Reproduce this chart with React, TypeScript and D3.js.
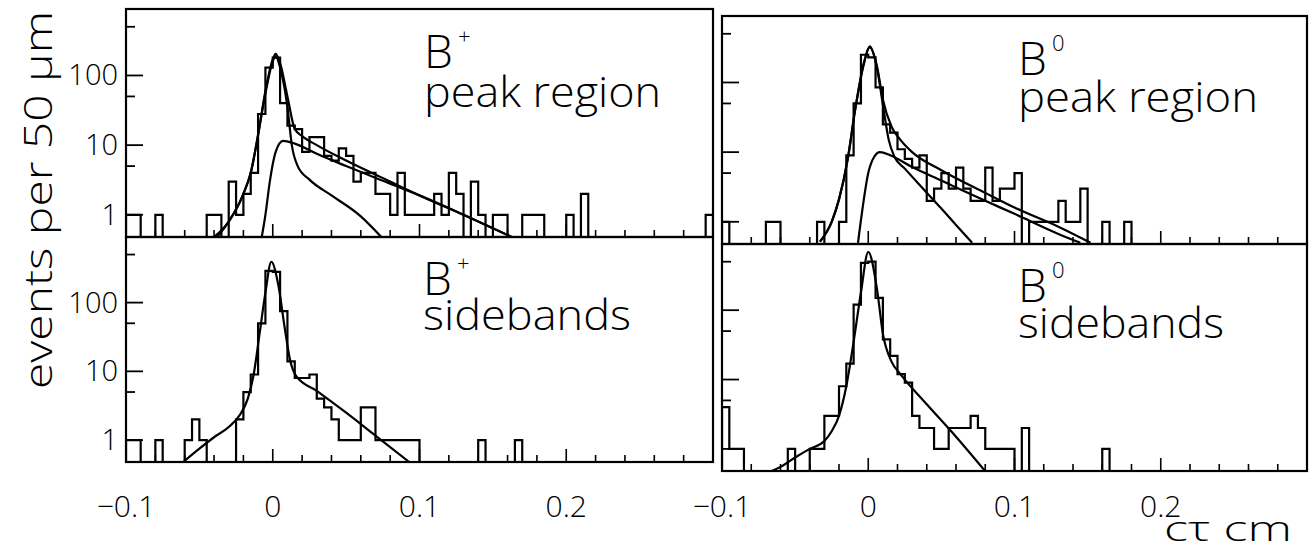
import React, { useRef, useEffect } from 'react';
import * as d3 from 'd3';

// bins of 50 um (0.005 cm) from -0.1 to 0.3 cm, 80 bins per panel
const binStart = -0.1;
const binWidth = 0.005;

const bPlusPeakHist = [
  1, 1, 0, 0, 1, 0, 0, 0, 0, 0, 0, 1, 1, 0, 3, 1, 2, 4, 28, 130,
  180, 40, 19, 17, 8, 13, 13, 7, 6, 9, 7, 3, 4, 4, 2, 2, 1, 4, 1, 1,
  1, 1, 2, 1, 4, 2, 0, 3, 1, 0, 1, 1, 0, 0, 1, 1, 1, 0, 0, 0,
  1, 0, 2, 0, 0, 0, 0, 0, 0, 0, 0, 0, 0, 0, 0, 0, 0, 0, 0, 1,
];
const bZeroPeakHist = [
  1, 0, 0, 0, 0, 0, 1, 1, 0, 0, 0, 0, 0, 1, 0, 0, 1, 9, 50, 250,
  230, 85, 25, 19, 11, 8, 6, 9, 2, 3, 5, 3, 6, 3, 2, 2, 6, 2, 3, 3,
  5, 0, 1, 1, 1, 1, 2, 1, 1, 3, 0, 0, 1, 0, 0, 1, 0, 0, 0, 0,
  0, 0, 0, 0, 0, 0, 0, 0, 0, 0, 0, 0, 0, 0, 0, 0, 0, 0, 0, 0,
];
const bPlusSideHist = [
  1, 1, 0, 0, 1, 0, 0, 0, 1, 2, 1, 0, 0, 0, 0, 2, 5, 9, 50, 290,
  280, 75, 14, 8, 8, 9, 4, 3, 2, 1, 1, 1, 3, 3, 1, 1, 1, 1, 1, 1,
  0, 0, 0, 0, 0, 0, 0, 0, 1, 0, 0, 0, 0, 1, 0, 0, 0, 0, 0, 0,
  0, 0, 0, 0, 0, 0, 0, 0, 0, 0, 0, 0, 0, 0, 0, 0, 0, 0, 0, 0,
];
const bZeroSideHist = [
  4, 1, 1, 0, 0, 0, 0, 0, 0, 1, 0, 0, 1, 1, 3, 3, 8, 17, 120, 480,
  500, 150, 38, 22, 12, 9, 3, 2, 2, 1, 1, 2, 2, 2, 3, 2, 1, 1, 1, 1,
  0, 2, 0, 0, 0, 0, 0, 0, 0, 0, 0, 0, 1, 0, 0, 0, 0, 0, 0, 0,
  0, 0, 0, 0, 0, 0, 0, 0, 0, 0, 0, 0, 0, 0, 0, 0, 0, 0, 0, 0,
];

// fit curves, [c tau (cm), events]
const bPlusPeakTotal = [
  [-0.04, 0.48], [-0.03, 0.8], [-0.02, 2], [-0.015, 4], [-0.01, 14], [-0.005, 60],
  [0, 170], [0.002, 205], [0.005, 150], [0.01, 50], [0.015, 17], [0.02, 13.5],
  [0.03, 10], [0.05, 6], [0.08, 3], [0.1, 1.9], [0.13, 1], [0.163, 0.48],
];
const bPlusPeakSignal = [
  [-0.0075, 0.48], [-0.005, 1], [-0.002, 3], [0.002, 8], [0.007, 11.5], [0.015, 10.5],
  [0.03, 7.5], [0.05, 5], [0.08, 2.8], [0.1, 1.9], [0.13, 1], [0.163, 0.48],
];
const bPlusPeakBkg = [
  [-0.038, 0.48], [-0.03, 0.8], [-0.02, 2], [-0.015, 4], [-0.01, 14], [-0.005, 55],
  [0, 160], [0.002, 190], [0.005, 130], [0.01, 35], [0.013, 10], [0.017, 5],
  [0.025, 3.2], [0.04, 1.9], [0.06, 0.95], [0.074, 0.48],
];
const bZeroPeakTotal = [
  [-0.033, 0.52], [-0.025, 1], [-0.02, 2.1], [-0.014, 8], [-0.009, 40], [-0.003, 190],
  [0.001, 330], [0.006, 170], [0.01, 57], [0.016, 23], [0.022, 15], [0.03, 10],
  [0.05, 5.5], [0.08, 2.6], [0.1, 1.6], [0.13, 0.85], [0.152, 0.5],
];
const bZeroPeakSignal = [
  [-0.007, 0.5], [-0.004, 1.5], [0, 5], [0.004, 8.5], [0.008, 10], [0.015, 9],
  [0.03, 6.1], [0.05, 3.9], [0.08, 2], [0.1, 1.3], [0.13, 0.67], [0.145, 0.5],
];
const bZeroPeakBkg = [
  [-0.033, 0.52], [-0.025, 1], [-0.02, 2.1], [-0.014, 8], [-0.009, 40], [-0.003, 185],
  [0.001, 320], [0.006, 160], [0.01, 48], [0.014, 15], [0.018, 8.5], [0.025, 5.8],
  [0.035, 3.4], [0.05, 1.55], [0.06, 0.9], [0.071, 0.5],
];
const bPlusSideFit = [
  [-0.061, 0.48], [-0.05, 0.75], [-0.04, 1.1], [-0.03, 1.55], [-0.022, 2.4], [-0.017, 4],
  [-0.013, 9], [-0.009, 35], [-0.005, 140], [-0.001, 390], [0.004, 170], [0.008, 45],
  [0.012, 14], [0.016, 8.5], [0.03, 5.2], [0.05, 2.5], [0.07, 1.16], [0.093, 0.48],
];
const bZeroSideFit = [
  [-0.069, 0.45], [-0.06, 0.55], [-0.05, 0.75], [-0.04, 1], [-0.03, 1.3], [-0.025, 1.8],
  [-0.02, 3], [-0.015, 8], [-0.01, 35], [-0.005, 180], [0, 690], [0.006, 200],
  [0.01, 46], [0.016, 18], [0.022, 12], [0.04, 4.4], [0.06, 1.5], [0.081, 0.45],
];

const yMajorTicks = [1, 10, 100];
const yMinorTicks = [5, 50, 500];
const yTickLabels = ['1', '10', '100'];
const xTickValues = [-0.1, 0, 0.1, 0.2];
const xTickLabels = ['\u22120.1', '0', '0.1', '0.2'];

const panels = [
  { id: 'tl', hist: bPlusPeakHist, curves: [bPlusPeakTotal, bPlusPeakSignal, bPlusPeakBkg],
    x0: 126, x1: 713, y0: 9, y1: 237, yLabels: true, xLabels: false,
    sym: 'B', sup: '+', name: 'peak region', tx: 424, bY: 68, nY: 107, nLen: 237 },
  { id: 'tr', hist: bZeroPeakHist, curves: [bZeroPeakTotal, bZeroPeakSignal, bZeroPeakBkg],
    x0: 722, x1: 1307, y0: 16, y1: 244, yLabels: false, xLabels: false,
    sym: 'B', sup: '0', name: 'peak region', tx: 1018, bY: 75, nY: 112, nLen: 240 },
  { id: 'bl', hist: bPlusSideHist, curves: [bPlusSideFit],
    x0: 126, x1: 713, y0: 237, y1: 462, yLabels: true, xLabels: true,
    sym: 'B', sup: '+', name: 'sidebands', tx: 423, bY: 295, nY: 330, nLen: 208 },
  { id: 'br', hist: bZeroSideHist, curves: [bZeroSideFit],
    x0: 722, x1: 1307, y0: 244, y1: 471, yLabels: false, xLabels: true,
    sym: 'B', sup: '0', name: 'sidebands', tx: 1018, bY: 302, nY: 338, nLen: 206 },
];

const FONT = "'Open Sans', 'DejaVu Sans', sans-serif";

const App = () => {
  const svgRef = useRef(null);

  useEffect(() => {
    const svg = d3.select(svgRef.current);
    svg.selectAll('*').remove();

    svg.append('rect').attr('width', 1312).attr('height', 555).attr('fill', '#fff');

    panels.forEach(p => {
      const x = d3.scaleLinear().domain([-0.1, 0.3]).range([p.x0, p.x1]);
      const y = d3.scaleLog().domain([0.48, 900]).range([p.y1, p.y0]);
      const g = svg.append('g');

      g.append('clipPath').attr('id', 'clip-' + p.id)
        .append('rect')
        .attr('x', p.x0).attr('y', p.y0)
        .attr('width', p.x1 - p.x0).attr('height', p.y1 - p.y0);

      // histogram outline
      const pts = [[p.x0, p.y1]];
      p.hist.forEach((v, i) => {
        const lo = binStart + i * binWidth;
        const yv = v > 0 ? y(v) : p.y1;
        pts.push([x(lo), yv]);
        pts.push([x(lo + binWidth), yv]);
      });
      pts.push([p.x1, p.y1]);
      g.append('path')
        .attr('d', d3.line()(pts))
        .attr('fill', 'none')
        .attr('stroke', '#000')
        .attr('stroke-width', 2.2)
        .attr('clip-path', `url(#clip-${p.id})`);

      // fitted curves
      const line = d3.line()
        .x(d => x(d[0]))
        .y(d => y(d[1]))
        .curve(d3.curveMonotoneX);
      p.curves.forEach(c => {
        g.append('path')
          .attr('d', line(c))
          .attr('fill', 'none')
          .attr('stroke', '#000')
          .attr('stroke-width', 2.2)
          .attr('clip-path', `url(#clip-${p.id})`);
      });

      // frame
      g.append('rect')
        .attr('x', p.x0).attr('y', p.y0)
        .attr('width', p.x1 - p.x0).attr('height', p.y1 - p.y0)
        .attr('fill', 'none').attr('stroke', '#000').attr('stroke-width', 2.2);

      // x ticks every 0.02, longer at each 0.1
      x.ticks(20).forEach(t => {
        const major = Math.abs(t * 10 - Math.round(t * 10)) < 1e-6;
        g.append('line')
          .attr('x1', x(t)).attr('x2', x(t))
          .attr('y1', p.y1).attr('y2', p.y1 - (major ? 13 : 7))
          .attr('stroke', '#000').attr('stroke-width', 1.6);
      });

      // y ticks
      yMajorTicks.forEach(t => {
        g.append('line')
          .attr('x1', p.x0).attr('x2', p.x0 + 17)
          .attr('y1', y(t)).attr('y2', y(t))
          .attr('stroke', '#000').attr('stroke-width', 1.8);
      });
      yMinorTicks.forEach(t => {
        g.append('line')
          .attr('x1', p.x0).attr('x2', p.x0 + 9)
          .attr('y1', y(t)).attr('y2', y(t))
          .attr('stroke', '#000').attr('stroke-width', 1.8);
      });

      if (p.yLabels) {
        yMajorTicks.forEach((t, i) => {
          g.append('text')
            .attr('x', p.x0 - 8).attr('y', y(t) + 10)
            .attr('text-anchor', 'end')
            .attr('font-family', FONT).attr('font-weight', 300)
            .attr('font-size', 29)
            .text(yTickLabels[i]);
        });
      }

      if (p.xLabels) {
        xTickValues.forEach((t, i) => {
          g.append('text')
            .attr('x', x(t)).attr('y', 517)
            .attr('text-anchor', 'middle')
            .attr('font-family', FONT).attr('font-weight', 300)
            .attr('font-size', 30)
            .text(xTickLabels[i]);
        });
      }

      // panel caption: particle symbol with superscript, region name below
      const cap = g.append('text')
        .attr('font-family', FONT).attr('font-weight', 300);
      cap.append('tspan')
        .attr('x', p.tx).attr('y', p.bY)
        .attr('font-size', 46)
        .text(p.sym);
      cap.append('tspan')
        .attr('x', p.tx + 34).attr('y', p.bY - 24)
        .attr('font-size', 22)
        .text(p.sup);
      cap.append('tspan')
        .attr('x', p.tx).attr('y', p.nY)
        .attr('font-size', 42)
        .attr('textLength', p.nLen)
        .attr('lengthAdjust', 'spacingAndGlyphs')
        .text(p.name);
    });

    // axis titles
    svg.append('text')
      .attr('transform', 'translate(52,200) rotate(-90)')
      .attr('text-anchor', 'middle')
      .attr('font-family', FONT).attr('font-weight', 300)
      .attr('font-size', 38)
      .attr('textLength', 378)
      .attr('lengthAdjust', 'spacingAndGlyphs')
      .text('events per 50 \u03bcm');

    svg.append('text')
      .attr('x', 1292).attr('y', 541)
      .attr('text-anchor', 'end')
      .attr('font-family', FONT).attr('font-weight', 300)
      .attr('font-size', 34)
      .attr('textLength', 128)
      .attr('lengthAdjust', 'spacingAndGlyphs')
      .text('c\u03c4 cm');
  }, []);

  return (
    <svg
      ref={svgRef}
      width={1312}
      height={555}
      style={{ position: 'absolute', left: 0, top: 0 }}
    />
  );
};

export default App;
